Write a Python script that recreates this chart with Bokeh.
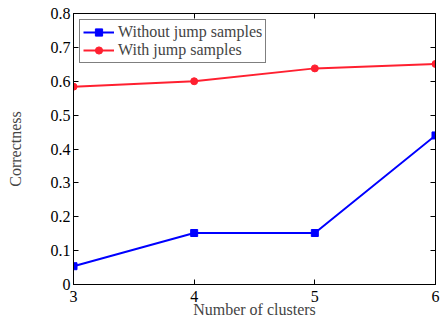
from bokeh.plotting import figure
from bokeh.models import LinearAxis, FixedTicker, Range1d
from bokeh.embed import file_html
from bokeh.resources import INLINE

clusters = [3, 4, 5, 6]
without_jump = [0.054, 0.152, 0.152, 0.440]
with_jump = [0.584, 0.600, 0.638, 0.651]
x_ticks = [3, 4, 5, 6]
y_ticks = [0, 0.1, 0.2, 0.3, 0.4, 0.5, 0.6, 0.7, 0.8]
y_tick_labels = ["0", "0.1", "0.2", "0.3", "0.4", "0.5", "0.6", "0.7", "0.8"]

FONT = "Liberation Serif"

p = figure(width=440, height=320, output_backend="svg", toolbar_location=None,
           x_range=Range1d(3, 6), y_range=Range1d(0, 0.8),
           min_border_left=73, min_border_right=5, min_border_top=13, min_border_bottom=36)
p.grid.visible = False
p.outline_line_color = "black"
p.outline_line_width = 1

def style_axis(ax, show_labels=True):
    ax.major_tick_in = 5
    ax.major_tick_out = 0
    ax.minor_tick_line_color = None
    ax.axis_line_color = "black"
    ax.major_tick_line_color = "black"
    ax.major_label_text_font = FONT
    ax.major_label_text_font_size = "16px"
    ax.major_label_text_color = "black"
    ax.major_label_standoff = 3 if show_labels else 0
    ax.axis_label_text_font = FONT
    ax.axis_label_text_font_style = "normal"
    ax.axis_label_text_font_size = "16px"

p.xaxis.ticker = FixedTicker(ticks=x_ticks)
p.yaxis.ticker = FixedTicker(ticks=y_ticks)
p.yaxis.major_label_overrides = {t: l for t, l in zip(y_ticks, y_tick_labels)}
p.xaxis.axis_label = "Number of clusters"
p.yaxis.axis_label = "Correctness"
for ax in p.xaxis + p.yaxis:
    style_axis(ax)
p.xaxis.major_label_standoff = 6
p.xaxis.axis_label_standoff = -4
p.yaxis.axis_label_standoff = 24

top = LinearAxis(ticker=FixedTicker(ticks=x_ticks),
                 major_label_overrides={t: "" for t in x_ticks})
right = LinearAxis(ticker=FixedTicker(ticks=y_ticks),
                   major_label_overrides={t: "" for t in y_ticks})
style_axis(top, False)
style_axis(right, False)
p.add_layout(top, "above")
p.add_layout(right, "right")

blue = "#0000ff"
red = "#ff2030"
p.line(clusters, without_jump, color=blue, line_width=2, legend_label="Without jump samples")
p.scatter(clusters, without_jump, marker="square", size=7, color=blue, legend_label="Without jump samples")
p.line(clusters, with_jump, color=red, line_width=2, legend_label="With jump samples")
p.scatter(clusters, with_jump, marker="circle", size=7, color=red, legend_label="With jump samples")

p.legend.location = "top_left"
p.legend.margin = 6
p.legend.padding = 3
p.legend.spacing = 0
p.legend.border_line_color = "black"
p.legend.border_line_width = 1
p.legend.label_text_font = FONT
p.legend.label_text_font_size = "16px"
p.legend.label_height = 18
p.legend.glyph_height = 18
p.legend.glyph_width = 31
p.legend.label_standoff = 4
p.legend.background_fill_alpha = 1

open("out.html", "w").write(file_html(p, INLINE))
